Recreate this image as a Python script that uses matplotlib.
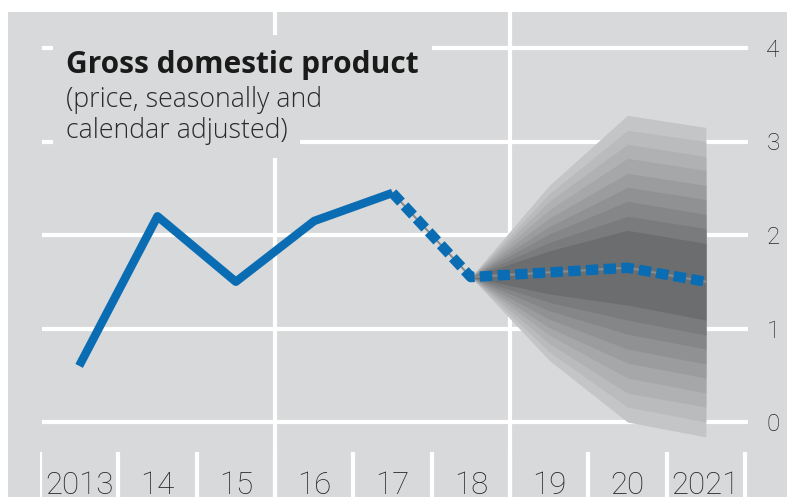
import matplotlib
matplotlib.use('Agg')
import matplotlib.pyplot as plt
from matplotlib.patches import Rectangle

# ---------------- data ----------------
years = ['2013', '14', '15', '16', '17', '18', '19', '20', '2021']
gdp_actual = [0.6, 2.2, 1.5, 2.15, 2.45]          # 2013..2017 (solid)
gdp_forecast = [2.45, 1.55, 1.6, 1.65, 1.5]       # 2017..2021 (dotted)
y_ticks = [0, 1, 2, 3, 4]

# fan chart band edges (inner band first, outer band last), fan starts at 2018 value
fan_hi_2019 = [1.83, 1.92, 2.01, 2.09, 2.18, 2.27, 2.36, 2.44, 2.53]
fan_lo_2019 = [1.37, 1.28, 1.19, 1.10, 1.01, 0.93, 0.84, 0.75, 0.66]
fan_hi_2020 = [2.05, 2.20, 2.36, 2.51, 2.66, 2.82, 2.97, 3.12, 3.28]
fan_lo_2020 = [1.25, 1.09, 0.94, 0.78, 0.63, 0.47, 0.31, 0.16, 0.00]
fan_hi_2021 = [1.91, 2.07, 2.22, 2.38, 2.53, 2.69, 2.84, 3.00, 3.15]
fan_lo_2021 = [1.09, 0.93, 0.78, 0.62, 0.47, 0.31, 0.16, 0.00, -0.16]
fan_colors = ['#6c6d6f', '#7a7b7d', '#858688', '#909193', '#9b9c9e',
              '#a6a7a9', '#b0b1b3', '#babbbd', '#c4c5c7']

# ---------------- layout ----------------
W, H = 787, 501
fig = plt.figure(figsize=(W / 100, H / 100), dpi=100)
fig.patch.set_facecolor('white')

def fx(px):
    return px / W

def fy(py):
    return 1 - py / H

BG = '#d8d9da'
BLUE = '#0a6db3'
fig.patches.append(Rectangle((fx(8), fy(497)), fx(787) - fx(8), fy(12) - fy(497),
                             transform=fig.transFigure, facecolor=BG,
                             edgecolor='none', zorder=-10))

PXX = 78.33   # px per year
PXY = 93.5    # px per unit
ax = fig.add_axes([fx(40), fy(497), fx(748) - fx(40), fy(12) - fy(497)])
ax.set_zorder(1)
xmax = 8.5 + 3 / PXX
ymin, ymax = (422 - 497) / PXY, (422 - 12) / PXY
ax.set_xlim(-0.5, xmax)
ax.set_ylim(ymin, ymax)
ax.axis('off')

# grid
ax.hlines(y_ticks, -0.47, xmax, color='white', lw=3, zorder=1)
ax.vlines([2.5, 5.5], ymin, ymax, color='white', lw=3, zorder=1)
ax.vlines([i - 0.5 for i in range(len(years) + 1)], ymin, (422 - 452) / PXY,
          color='white', lw=3, zorder=1)

# fan
fx_idx = [5, 6, 7, 8]
start = gdp_forecast[1]
for k in range(len(fan_colors) - 1, -1, -1):
    hi = [start, fan_hi_2019[k], fan_hi_2020[k], fan_hi_2021[k]]
    lo = [start, fan_lo_2019[k], fan_lo_2020[k], fan_lo_2021[k]]
    ax.fill_between(fx_idx, lo, hi, color=fan_colors[k], lw=0, zorder=2)

# title masks
for (x0, y0, x1, y1) in [(53, 35, 432, 86), (53, 86, 335, 118), (53, 118, 300, 158)]:
    ax.add_patch(Rectangle((fx(x0), fy(y1)), fx(x1) - fx(x0), fy(y0) - fy(y1),
                           transform=fig.transFigure, facecolor=BG,
                           edgecolor='none', zorder=3, clip_on=False))

# lines
ax.plot(range(0, 5), gdp_actual, color=BLUE, lw=6.1, solid_capstyle='butt',
        solid_joinstyle='round', zorder=6)
ax.plot(range(4, 9), gdp_forecast, color='#8a8b8d', lw=1.5, zorder=5)
ax.plot(range(4, 9), gdp_forecast, color=BLUE, lw=7.5, linestyle=(0, (1.2, 0.5)),
        dash_capstyle='butt', zorder=6)

# labels
tickfont = ['Roboto', 'Liberation Sans', 'DejaVu Sans']
for i, lab in enumerate(years):
    ax.text(i, (422 - 494) / PXY, lab, ha='center', va='baseline', fontsize=22.5,
            family=tickfont, fontweight='light', color='#262626', clip_on=False)
for v in y_ticks:
    ax.text((773 - 40) / PXX - 0.5, v - 9 / PXY, str(v), ha='center', va='baseline',
            fontsize=17.5, family=tickfont, fontweight='light', color='#262626',
            clip_on=False)

ax.text(fx(66), fy(73), 'Gross domestic product', fontsize=21.5, fontweight='bold',
        family='Open Sans', color='#1a1a1a', va='baseline', zorder=7,
        transform=fig.transFigure, clip_on=False)
ax.text(fx(66), fy(107), '(price, seasonally and', fontsize=19.3, fontweight='light',
        family='Open Sans', color='#2a2a2a', va='baseline', zorder=7,
        transform=fig.transFigure, clip_on=False)
ax.text(fx(66), fy(138), 'calendar adjusted)', fontsize=19.3, fontweight='light',
        family='Open Sans', color='#2a2a2a', va='baseline', zorder=7,
        transform=fig.transFigure, clip_on=False)

fig.savefig('out.png', dpi=100)
